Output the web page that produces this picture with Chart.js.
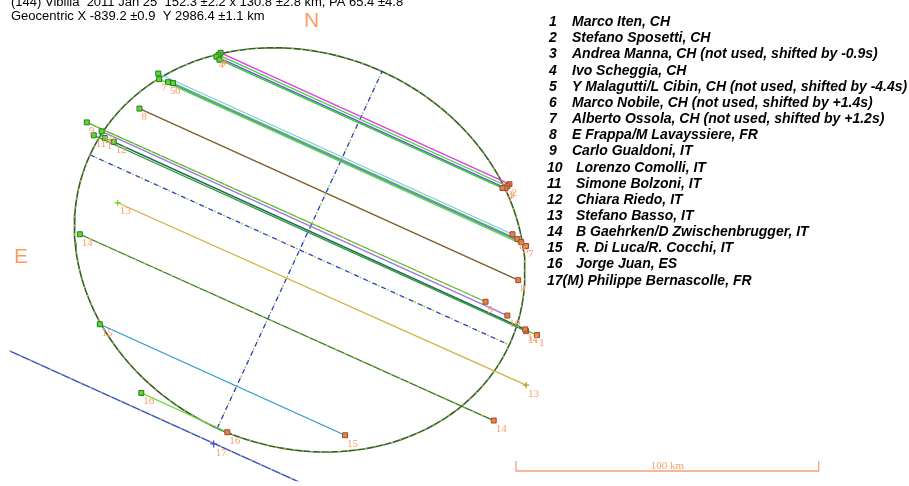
<!DOCTYPE html>
<html>
<head>
<meta charset="utf-8">
<script src="https://cdn.jsdelivr.net/npm/chart.js@4.4.1/dist/chart.umd.min.js"></script>
<style>
html, body { margin: 0; padding: 0; background: #fff; overflow: hidden; }
canvas { display: block; }
</style>
</head>
<body>
<canvas id="plot" width="909" height="486"></canvas>
<script>
// (144) Vibilia, 2011 Jan 25 - occultation chords in the fundamental plane.
// Coordinates are km east (x) and north (y) of the fitted profile centre.

const titleLines = [
  '(144) Vibilia  2011 Jan 25  152.3 \u00b12.2 x 130.8 \u00b12.8 km, PA 65.4 \u00b14.8',
  'Geocentric X -839.2 \u00b10.9  Y 2986.4 \u00b11.1 km'
];

// fitted ellipse (from the title)
const fitMajorKm = 152.3;
const fitMinorKm = 130.8;
const fitPADeg = 65.4;

// observed chords: disappearance (dis) and reappearance (re) points
const chordIds = ['2', '3', '4', '', '', '6', '5', '7', '8', '9', '10', '11', '1', '12', '13', '14', '15', '16'];
const disE = [26.1, 26.8, 27.5, 26.5, 46.7, 41.8, 43.5, 46.4, 52.9, 70.3, 65.4, 68.0, 64.4, 61.4, 60.1, 72.6, 66.0, 52.3];
const disN = [65.7, 65.0, 64.4, 63.4, 58.8, 55.6, 55.9, 56.9, 47.1, 42.5, 39.5, 38.2, 37.3, 36.0, 15.7, 5.2, -24.8, -47.7];
const reE = [-69.3, -68.6, -68.0, -67.0, -70.3, -71.9, -73.2, -74.8, -72.2, -61.4, -68.6, -74.8, -78.4, -74.5, -74.8, -64.1, -15.0, 23.9];
const reN = [21.9, 21.2, 20.6, 20.6, 5.2, 3.6, 2.6, 1.3, -10.1, -17.3, -21.9, -27.1, -28.4, -26.5, -45.1, -56.9, -61.8, -60.8];

// miss chord (observer 17) and its mid-event marker
const missLineE = [95.8, -0.7];
const missLineN = [-33.7, -77.8];
const missMarkE = [28.4];
const missMarkN = [-64.7];
const missId = '17';

// observer list
const observerNumbers = ['1', '2', '3', '4', '5', '6', '7', '8', '9', '10', '11', '12', '13', '14', '15', '16', '17(M)'];
const observerNames = [
  'Marco Iten, CH',
  'Stefano Sposetti, CH',
  'Andrea Manna, CH (not used, shifted by -0.9s)',
  'Ivo Scheggia, CH',
  'Y Malagutti/L Cibin, CH (not used, shifted by -4.4s)',
  'Marco Nobile, CH (not used, shifted by +1.4s)',
  'Alberto Ossola, CH (not used, shifted by +1.2s)',
  'E Frappa/M Lavayssiere, FR',
  'Carlo Gualdoni, IT',
  'Lorenzo Comolli, IT',
  'Simone Bolzoni, IT',
  'Chiara Riedo, IT',
  'Stefano Basso, IT',
  'B Gaehrken/D Zwischenbrugger, IT',
  'R. Di Luca/R. Cocchi, IT',
  'Jorge Juan, ES',
  'Philippe Bernascolle, FR'
];

const scaleBarKm = 100;

// ---- styling ----
const chordColors = ['#e23be2', '#3fd23f', '#6a4fd8', '#2ecc2e', '#7ec8e8', '#3cc83c', '#8a63d2', '#44e044',
  '#7d5a2a', '#4fb52a', '#9a78de', '#2f8f3a', '#5ccc30', '#1d6d63', '#d2b040', '#2f7a2a', '#2e9ac8', '#6fdc3a'];
const crossMarked = ['13'];
const labelColor = '#ff9a6a';
const sansFont = '"Liberation Sans", Arial, sans-serif';
const serifFont = '"Liberation Serif", "Times New Roman", serif';

// view geometry
const W = 909, H = 486;
const PX_PER_KM = 3.06;
const CENTRE_PX = [298, 250];

function ellipsePoints(major, minor, paDeg, steps) {
  const a = major / 2, b = minor / 2, pa = paDeg * Math.PI / 180;
  const pts = [];
  for (let k = 0; k <= steps; k++) {
    const t = 2 * Math.PI * k / steps;
    pts.push({
      x: a * Math.cos(t) * Math.sin(pa) + b * Math.sin(t) * Math.cos(pa),
      y: a * Math.cos(t) * Math.cos(pa) - b * Math.sin(t) * Math.sin(pa)
    });
  }
  return pts;
}

const pa = fitPADeg * Math.PI / 180;
const semiA = fitMajorKm / 2, semiB = fitMinorKm / 2;
const majorAxis = [
  { x: semiA * Math.sin(pa), y: semiA * Math.cos(pa) },
  { x: -semiA * Math.sin(pa), y: -semiA * Math.cos(pa) }
];
const minorAxis = [
  { x: semiB * Math.cos(pa), y: -semiB * Math.sin(pa) },
  { x: -semiB * Math.cos(pa), y: semiB * Math.sin(pa) }
];
const outline = ellipsePoints(fitMajorKm, fitMinorKm, fitPADeg, 180);

const datasets = [];
function lineSet(data, color, width, dash, dashOffset) {
  datasets.push({
    data, showLine: true, borderColor: color, borderWidth: width,
    borderDash: dash || [], borderDashOffset: dashOffset || 0,
    pointRadius: 0, pointHoverRadius: 0, fill: false
  });
}

// profile outline
lineSet(outline, '#2f5f2c', 1.6);
lineSet(outline, '#d9cf22', 1, [2, 7]);
// principal axes
lineSet(majorAxis, '#9acd32', 1.3, [2, 8], -6);
lineSet(majorAxis, '#2a3fc0', 1.3, [5, 5]);
lineSet(minorAxis, '#9acd32', 1.3, [2, 8], -6);
lineSet(minorAxis, '#2a3fc0', 1.3, [5, 5]);
// miss chord
const missLine = missLineE.map((e, i) => ({ x: e, y: missLineN[i] }));
lineSet(missLine, '#3050c8', 1.4);
lineSet(missLine, '#d9cf22', 1, [2, 9]);
// observed chords
chordIds.forEach((id, i) => {
  const seg = [{ x: disE[i], y: disN[i] }, { x: reE[i], y: reN[i] }];
  lineSet(seg, chordColors[i], 1.3);
  if (id === '14' || id === '9') lineSet(seg, '#d9cf22', 1, [2, 8]);
});

// event markers
const squareIdx = chordIds.map((id, i) => i).filter(i => !crossMarked.includes(chordIds[i]));
const crossIdx = chordIds.map((id, i) => i).filter(i => crossMarked.includes(chordIds[i]));
function markerSet(data, style, radius, fillCol, borderCol, bw) {
  datasets.push({
    data, showLine: false, pointStyle: style, pointRadius: radius, pointHoverRadius: radius,
    pointBackgroundColor: fillCol, pointBorderColor: borderCol, pointBorderWidth: bw
  });
}
markerSet(squareIdx.map(i => ({ x: disE[i], y: disN[i] })), 'rect', 3.5, '#5ad838', '#2a7a1a', 1);
markerSet(squareIdx.map(i => ({ x: reE[i], y: reN[i] })), 'rect', 3.5, '#d9884a', '#a8452a', 1);
markerSet(crossIdx.map(i => ({ x: disE[i], y: disN[i] })), 'cross', 3, '#7ccf3a', '#7ccf3a', 1.3);
markerSet(crossIdx.map(i => ({ x: reE[i], y: reN[i] })), 'cross', 3, '#b89a30', '#b89a30', 1.3);
markerSet(missMarkE.map((e, i) => ({ x: e, y: missMarkN[i] })), 'cross', 3.5, '#4a50d0', '#4a50d0', 1.3);

datasets.forEach((d, i) => { d.order = datasets.length - i; });

const annotations = {
  id: 'occultText',
  afterDatasetsDraw(chart) {
    const { ctx, scales: { x, y } } = chart;
    ctx.save();

    // chord labels at both event points
    ctx.font = '11px ' + serifFont;
    ctx.fillStyle = labelColor;
    ctx.textAlign = 'left';
    ctx.textBaseline = 'top';
    chordIds.forEach((id, i) => {
      if (!id) return;
      ctx.fillText(id, x.getPixelForValue(disE[i]) + 2, y.getPixelForValue(disN[i]) + 3);
      ctx.fillText(id, x.getPixelForValue(reE[i]) + 2, y.getPixelForValue(reN[i]) + 3);
    });
    missMarkE.forEach((e, i) => {
      ctx.fillText(missId, x.getPixelForValue(e) + 2, y.getPixelForValue(missMarkN[i]) + 4);
    });

    // compass letters
    ctx.font = '21px ' + sansFont;
    ctx.textBaseline = 'alphabetic';
    ctx.fillStyle = '#ff9a5e';
    ctx.fillText('N', 304, 27);
    ctx.fillText('E', 14, 263);

    // title
    ctx.fillStyle = '#000';
    ctx.font = '13px ' + sansFont;
    ctx.fillText(titleLines[0], 11, 6);
    ctx.fillText(titleLines[1], 11, 19.5);

    // observer list
    ctx.font = 'italic bold 14px ' + sansFont;
    ctx.textBaseline = 'middle';
    observerNumbers.forEach((num, i) => {
      const yy = 22.3 + i * 16.15;
      if (num.length > 2) {
        ctx.fillText(num + ' ' + observerNames[i], 547, yy);
      } else if (num.length === 2) {
        ctx.fillText(num, 547, yy);
        ctx.fillText(observerNames[i], 576, yy);
      } else {
        ctx.fillText(num, 549, yy);
        ctx.fillText(observerNames[i], 572, yy);
      }
    });

    // scale bar
    const len = Math.abs(x.getPixelForValue(scaleBarKm) - x.getPixelForValue(0));
    const x0 = 516, yb = 471;
    ctx.strokeStyle = '#f2a274';
    ctx.lineWidth = 1.3;
    ctx.beginPath();
    ctx.moveTo(x0, yb - 10); ctx.lineTo(x0, yb); ctx.lineTo(x0 + len, yb); ctx.lineTo(x0 + len, yb - 10);
    ctx.stroke();
    ctx.fillStyle = '#f2a274';
    ctx.font = '11px ' + serifFont;
    ctx.textAlign = 'center';
    ctx.textBaseline = 'alphabetic';
    ctx.fillText(scaleBarKm + ' km', x0 + len / 2, yb - 2);

    ctx.restore();
  }
};

new Chart(document.getElementById('plot'), {
  type: 'scatter',
  data: { datasets },
  options: {
    responsive: false,
    animation: false,
    devicePixelRatio: 1,
    layout: { padding: 0 },
    plugins: { legend: { display: false }, tooltip: { enabled: false } },
    events: [],
    scales: {
      x: {
        type: 'linear', display: false, reverse: true,
        min: -(W - CENTRE_PX[0]) / PX_PER_KM,
        max: CENTRE_PX[0] / PX_PER_KM
      },
      y: {
        type: 'linear', display: false,
        min: -(H - CENTRE_PX[1]) / PX_PER_KM,
        max: CENTRE_PX[1] / PX_PER_KM
      }
    }
  },
  plugins: [annotations]
});
</script>
</body>
</html>
